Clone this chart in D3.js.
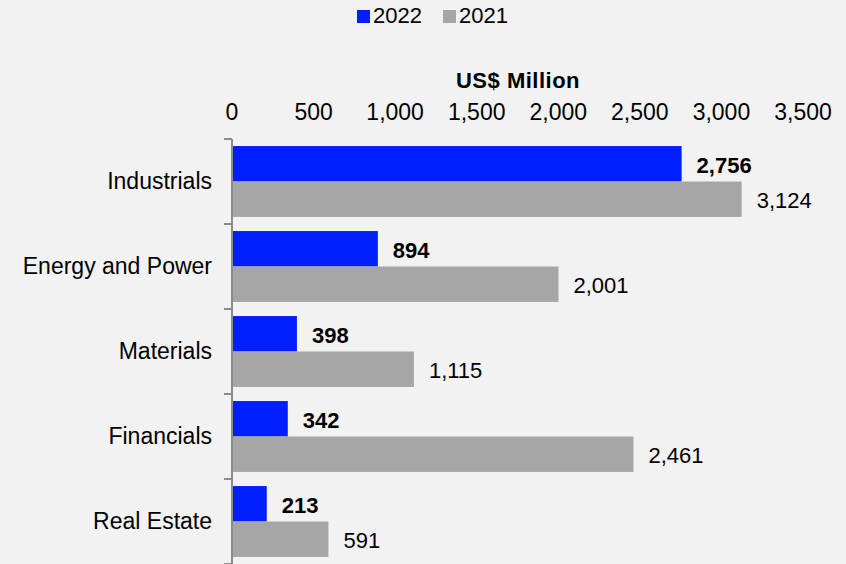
<!DOCTYPE html>
<html>
<head>
<meta charset="utf-8">
<script src="https://cdn.jsdelivr.net/npm/d3@7"></script>
<style>
  body { margin: 0; background: #f2f2f2; }
  svg { display: block; font-family: "Liberation Sans", Arial, sans-serif; }
</style>
</head>
<body>
<svg id="chart" width="846" height="564"></svg>
<script>
var categories = ['Industrials', 'Energy and Power', 'Materials', 'Financials', 'Real Estate']
var series = ['2022', '2021']
var values2022 = [2756, 894, 398, 342, 213]
var values2021 = [3124, 2001, 1115, 2461, 591]
var tickValues = [0, 500, 1000, 1500, 2000, 2500, 3000, 3500]
var colors = { '2022': '#001eff', '2021': '#a6a6a6' }

var svg = d3.select('#chart')
svg.append('rect').attr('width', 846).attr('height', 564).attr('fill', '#f2f2f2')

var x = d3.scaleLinear().domain([0, 3500]).range([232, 803])
var y = d3.scaleBand().domain(categories).range([139, 564]).paddingInner(0.166).paddingOuter(0.083)
var sub = d3.scaleBand().domain(series).range([0, y.bandwidth()])

var fmt = d3.format(',')

// top axis labels (no line)
svg.append('g').selectAll('text')
  .data(tickValues)
  .enter().append('text')
  .attr('x', function(d) { return x(d) })
  .attr('y', 120)
  .attr('text-anchor', 'middle')
  .style('font-size', '23px')
  .attr('fill', '#000')
  .text(function(d) { return fmt(d) })

svg.append('text')
  .attr('x', 518).attr('y', 88)
  .attr('text-anchor', 'middle')
  .style('font-size', '22px').style('font-weight', 'bold')
  .style('letter-spacing', '0.5px')
  .text('US$ Million')

// left axis line + ticks
var bounds = categories.map(function(c) { return y(c) - y.step() * y.paddingInner() / 2 })
bounds.push(564)
svg.append('line')
  .attr('x1', 232).attr('x2', 232).attr('y1', 139).attr('y2', 564)
  .attr('stroke', '#8c8c8c').attr('stroke-width', 2)
svg.append('g').selectAll('line')
  .data(bounds)
  .enter().append('line')
  .attr('x1', 224).attr('x2', 232)
  .attr('y1', function(d) { return Math.round(d) })
  .attr('y2', function(d) { return Math.round(d) })
  .attr('stroke', '#8c8c8c').attr('stroke-width', 2)

var rows = categories.map(function(c, i) {
  return { cat: c, '2022': values2022[i], '2021': values2021[i] }
})

var groups = svg.append('g').selectAll('g')
  .data(rows)
  .enter().append('g')
  .attr('transform', function(d) { return 'translate(0,' + y(d.cat) + ')' })

groups.selectAll('rect')
  .data(function(d) { return series.map(function(s) { return { s: s, v: d[s] } }) })
  .enter().append('rect')
  .attr('x', x(0) + 1)
  .attr('y', function(d) { return sub(d.s) })
  .attr('width', function(d) { return x(d.v) - x(0) - 1 })
  .attr('height', sub.bandwidth())
  .attr('fill', function(d) { return colors[d.s] })

groups.selectAll('text.val')
  .data(function(d) { return series.map(function(s) { return { s: s, v: d[s] } }) })
  .enter().append('text')
  .attr('class', 'val')
  .attr('x', function(d) { return x(d.v) + 15 })
  .attr('y', function(d) { return sub(d.s) + sub.bandwidth() / 2 + 9 })
  .style('font-size', '22px')
  .style('font-weight', function(d) { return d.s === '2022' ? 'bold' : 'normal' })
  .text(function(d) { return fmt(d.v) })

groups.append('text')
  .attr('x', 212)
  .attr('y', function() { return y.bandwidth() / 2 + 8 })
  .attr('text-anchor', 'end')
  .style('font-size', '23px')
  .text(function(d) { return d.cat })

// legend
var legend = svg.append('g')
var legendX = { '2022': 357, '2021': 443 }
series.forEach(function(s) {
  legend.append('rect')
    .attr('x', legendX[s]).attr('y', 10).attr('width', 13).attr('height', 13)
    .attr('fill', colors[s])
  legend.append('text')
    .attr('x', legendX[s] + 16).attr('y', 23)
    .style('font-size', '22px')
    .text(s)
})
</script>
</body>
</html>
